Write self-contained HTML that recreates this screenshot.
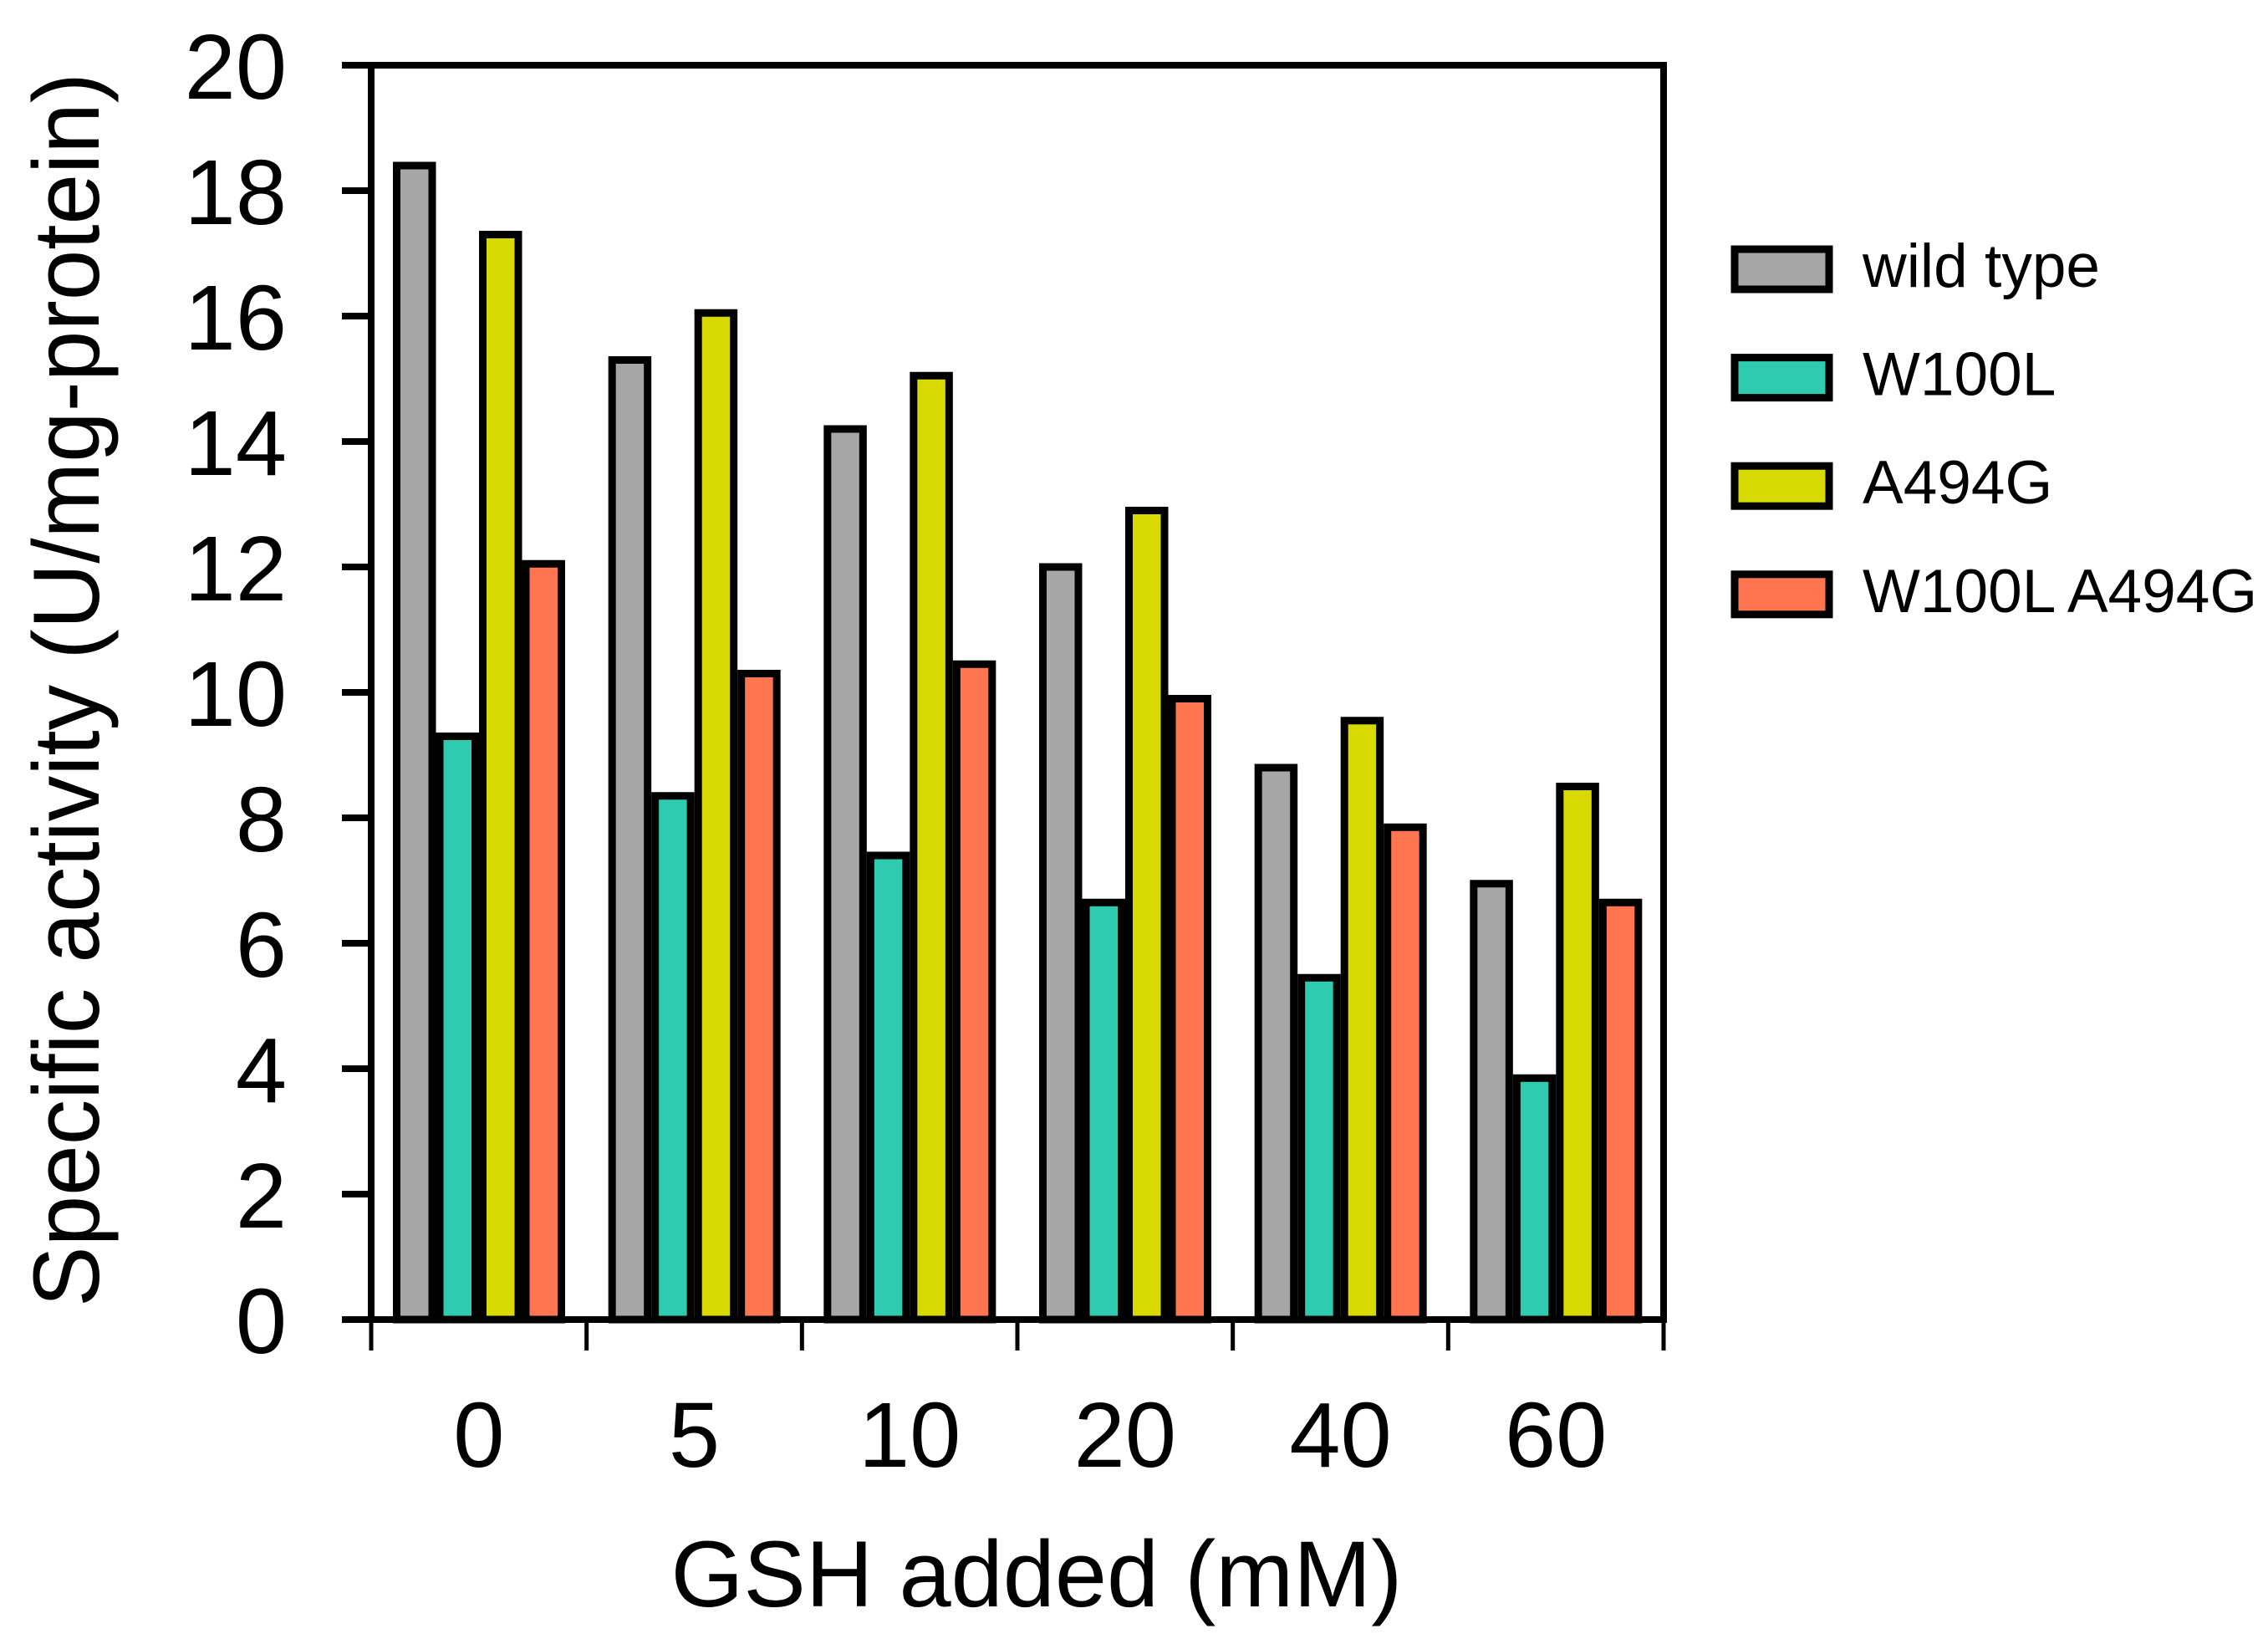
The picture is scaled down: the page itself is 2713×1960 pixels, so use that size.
<!DOCTYPE html>
<html><head><meta charset="utf-8"><style>
html,body{margin:0;padding:0;background:#fff;}
svg{display:block;font-family:"Liberation Sans",Arial,sans-serif;}
</style></head><body>
<svg id="chart" width="2713" height="1960" viewBox="0 0 2713 1960" xmlns="http://www.w3.org/2000/svg">
<g id="bars"></g>
<g id="axes"></g>
<g id="legend"></g>
<text transform="translate(118,825) rotate(-90)" text-anchor="middle" font-size="112" textLength="1476" lengthAdjust="spacingAndGlyphs">Specific activity (U/mg-protein)</text>
<text x="1240" y="1921" text-anchor="middle" font-size="112" textLength="875" lengthAdjust="spacingAndGlyphs">GSH added (mM)</text>
</svg>
<script>
const categories = ["0","5","10","20","40","60"];
const seriesNames = ["wild type","W100L","A494G","W100L A494G"];
const wildType = [18.4, 15.3, 14.2, 12.0, 8.8, 6.95];
const w100l = [9.3, 8.35, 7.4, 6.65, 5.45, 3.85];
const a494g = [17.3, 16.05, 15.05, 12.9, 9.55, 8.5];
const doubleMut = [12.05, 10.3, 10.45, 9.9, 7.85, 6.65];
const yTicks = [0,2,4,6,8,10,12,14,16,18,20];
const colors = ["#a6a6a6","#2ecbb1","#d7d900","#ff7550"];
const series = [wildType, w100l, a494g, doubleMut];

const NS = "http://www.w3.org/2000/svg";
const X0 = 444, X1 = 1990, Y0 = 1578, Y20 = 78;
const groupW = (X1 - X0) / categories.length;
const barW = 51.5;
const yScale = v => Y0 - (Y0 - Y20) * v / 20;
const xGroup = i => X0 + i * groupW;
function mk(tag, attrs, parent) {
  const e = document.createElementNS(NS, tag);
  for (const k in attrs) e.setAttribute(k, attrs[k]);
  parent.appendChild(e);
  return e;
}
const gb = document.getElementById("bars");
series.forEach((vals, s) => {
  vals.forEach((v, i) => {
    const x = xGroup(i) + 26 + s * barW;
    const y = yScale(v);
    const r = mk("rect", {x: x + 4.5, y: y, width: barW - 9, height: Y0 - y, fill: colors[s], stroke: "#000", "stroke-width": 9}, gb);
    
    
  });
});
const ga = document.getElementById("axes");
const frame = mk("path", {d: `M${X0},${Y0} L${X0},${Y20} L${X1},${Y20} L${X1},${Y0} Z`, fill: "none", stroke: "#000", "stroke-width": 8}, ga);


yTicks.forEach(t => {
  const y = yScale(t);
  const l = mk("line", {x1: 409, x2: X0, y1: y, y2: y, stroke: "#000", "stroke-width": 8}, ga);
  
  
  const tx = mk("text", {x: 343, y: y + 40, "text-anchor": "end", "font-size": 110}, ga);
  tx.textContent = t;
  
  
});
for (let i = 0; i <= categories.length; i++) {
  const x = xGroup(i);
  const l = mk("line", {x1: x, x2: x, y1: Y0, y2: 1615, stroke: "#000", "stroke-width": 5}, ga);
  
  
}
categories.forEach((c, i) => {
  const tx = mk("text", {x: xGroup(i) + groupW / 2, y: 1754, "text-anchor": "middle", "font-size": 110}, ga);
  tx.textContent = c;
  
  
});
const gl = document.getElementById("legend");
seriesNames.forEach((n, s) => {
  const top = 294 + s * 129.6;
  const r = mk("rect", {x: 2075, y: top + 4, width: 113, height: 48, fill: colors[s], stroke: "#000", "stroke-width": 9}, gl);
  
  
  const tx = mk("text", {x: 2228, y: top + 49, "font-size": 73}, gl);
  tx.textContent = n;
  
  
});
</script>
</body></html>
